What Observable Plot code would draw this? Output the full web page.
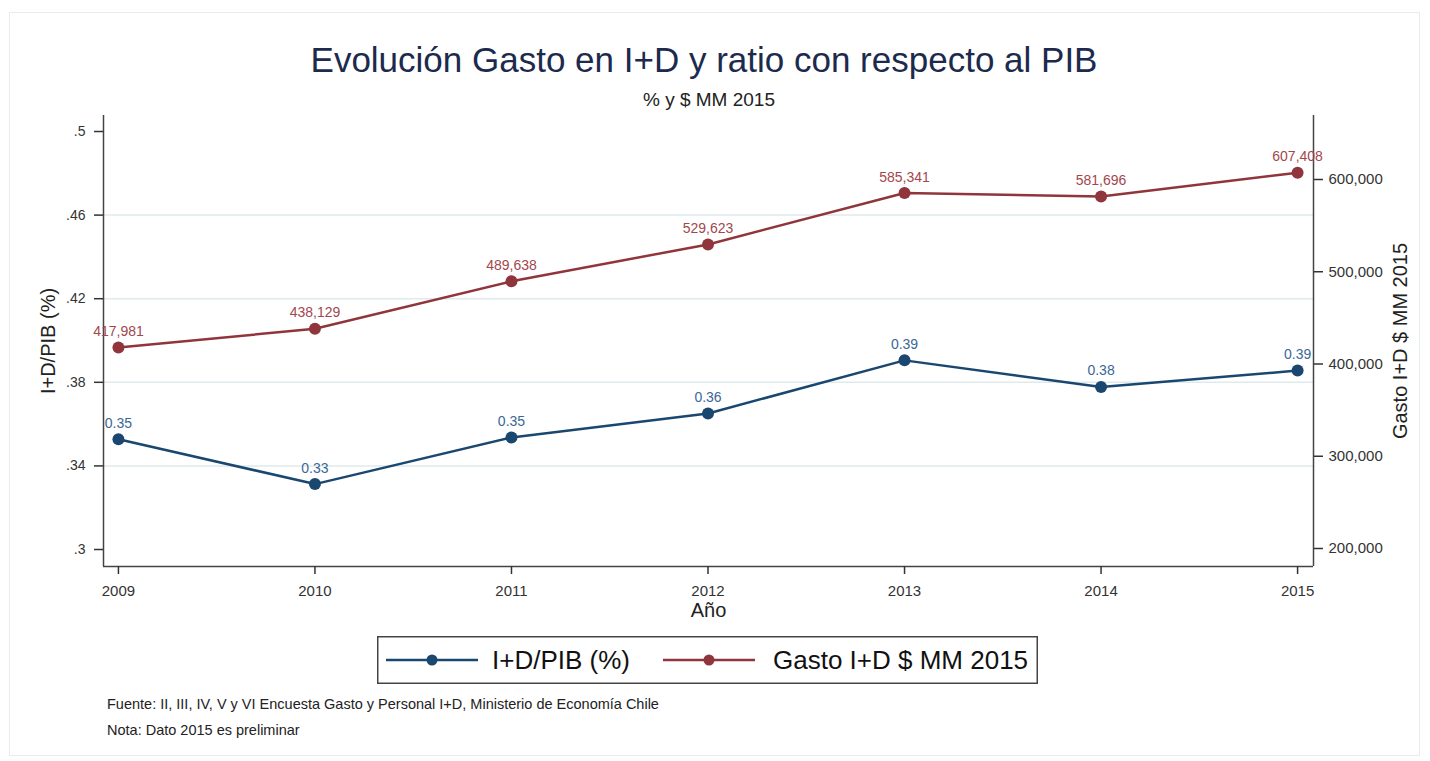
<!DOCTYPE html>
<html>
<head>
<meta charset="utf-8">
<script src="https://cdn.jsdelivr.net/npm/d3@7"></script>
<script src="https://cdn.jsdelivr.net/npm/@observablehq/plot@0.6"></script>
<style>
  html, body { margin: 0; padding: 0; background: #fff; overflow: hidden; }
  body { font-family: "Liberation Sans", Arial, sans-serif; }
  #wrap { position: relative; width: 1430px; height: 761px; overflow: hidden; background: #fff; }
  #border { position: absolute; left: 9px; top: 12px; width: 1411px; height: 744px; border: 1px solid #e6eded; box-sizing: border-box; }
  #chart { position: absolute; left: 0; top: 0; }
  .ov { position: absolute; white-space: nowrap; }
  #title { left: 0; width: 1408px; top: 42px; text-align: center; font-size: 35px; line-height: 35px; color: #1c2a4d; }
  #subtitle { left: 0; width: 1418px; top: 90px; text-align: center; font-size: 19px; line-height: 19px; color: #222; }
  #legend { left: 377px; top: 636px; }
  .foot { left: 107px; font-size: 14.5px; line-height: 14.5px; color: #222; }
</style>
</head>
<body>
<div id="wrap">
  <div id="border"></div>
  <div id="chart"></div>
  <div id="title" class="ov">Evolución Gasto en I+D y ratio con respecto al PIB</div>
  <div id="subtitle" class="ov">% y $ MM 2015</div>
  <div id="legend" class="ov"></div>
  <div class="ov foot" style="top:697px">Fuente: II, III, IV, V y VI Encuesta Gasto y Personal I+D, Ministerio de Economía Chile</div>
  <div class="ov foot" style="top:723px">Nota: Dato 2015 es preliminar</div>
</div>
<script>
// ---- data ----
const years = [2009, 2010, 2011, 2012, 2013, 2014, 2015];
const ratio = [0.3528, 0.3313, 0.3536, 0.3651, 0.3905, 0.3778, 0.3856];
const ratioLabels = ["0.35", "0.33", "0.35", "0.36", "0.39", "0.38", "0.39"];
const gasto = [417981, 438129, 489638, 529623, 585341, 581696, 607408];
const leftTicks = [0.3, 0.34, 0.38, 0.42, 0.46, 0.5];
const gridTicks = [0.34, 0.38, 0.42, 0.46];
const rightTicks = [200000, 300000, 400000, 500000, 600000];
const seriesNames = ["I+D/PIB (%)", "Gasto I+D $ MM 2015"];
const leftLabel = "I+D/PIB (%)";
const rightLabel = "Gasto I+D $ MM 2015";
const xLabel = "Año";

// ---- scale configuration ----
const xDomain = [2008.924, 2015.081];
const yDomain = [0.29187, 0.50766];
const rightDomain = [180488, 669377];

const blue = "#1a476f", red = "#90353b";
const blueText = "#3a6896", redText = "#a2474d";
const font = "'Liberation Sans', Arial, sans-serif";

const toLeft = d3.scaleLinear().domain(rightDomain).range(yDomain);
const fmtComma = d3.format(",");
const fmtLeft = d => d3.format(".2~f")(d).replace(/^0/, "");

const chart = Plot.plot({
  width: 1430,
  height: 761,
  marginTop: 115,
  marginBottom: 195,
  marginLeft: 103,
  marginRight: 117,
  style: { fontFamily: font, background: "transparent" },
  x: { domain: xDomain },
  y: { domain: yDomain },
  marks: [
    Plot.gridY({ ticks: gridTicks, stroke: "#dfeaed", strokeOpacity: 1, strokeWidth: 1.5 }),
    Plot.ruleX(xDomain, { stroke: "#444", strokeWidth: 1.5 }),
    Plot.ruleY([yDomain[0]], { stroke: "#444", strokeWidth: 1.5 }),
    Plot.axisY({ anchor: "left", ticks: leftTicks, tickFormat: fmtLeft, tickSize: 9, tickPadding: 9,
                 fontSize: 14, color: "#333", strokeWidth: 1.5, label: null }),
    Plot.axisY({ anchor: "right", ticks: rightTicks.map(toLeft),
                 tickFormat: d => fmtComma(Math.round(toLeft.invert(d) / 1000) * 1000),
                 tickSize: 9, tickPadding: 6, fontSize: 15, color: "#333", strokeWidth: 1.5, label: null }),
    Plot.axisX({ ticks: years, tickFormat: d => String(d), tickSize: 8, tickPadding: 11,
                 fontSize: 15, color: "#333", strokeWidth: 1.5, label: null }),
    Plot.text([xLabel], { frameAnchor: "bottom", dy: 44, fontSize: 20, fill: "#222", lineAnchor: "middle" }),
    Plot.text([leftLabel], { frameAnchor: "left", dx: -55, rotate: -90, textAnchor: "middle", lineAnchor: "middle", fontSize: 20, fill: "#222" }),
    Plot.text([rightLabel], { frameAnchor: "right", dx: 87, rotate: -90, textAnchor: "middle", lineAnchor: "middle", fontSize: 20, fill: "#222" }),
    // red series (right axis)
    Plot.line(years, { x: years, y: gasto.map(toLeft), stroke: red, strokeWidth: 2.5 }),
    Plot.dot(years, { x: years, y: gasto.map(toLeft), r: 6, fill: red }),
    Plot.text(years, { x: years, y: gasto.map(toLeft), text: gasto.map(fmtComma), dy: -16, fontSize: 14, fill: redText, lineAnchor: "middle" }),
    // blue series (left axis)
    Plot.line(years, { x: years, y: ratio, stroke: blue, strokeWidth: 2.5 }),
    Plot.dot(years, { x: years, y: ratio, r: 6, fill: blue }),
    Plot.text(years, { x: years, y: ratio, text: ratioLabels, dy: -16, fontSize: 14, fill: blueText, lineAnchor: "middle" })
  ]
});
document.getElementById("chart").appendChild(chart);

// ---- legend ----
const legendItems = [
  { name: seriesNames[0], color: blue, x0: 9, textX: 115 },
  { name: seriesNames[1], color: red, x0: 286, textX: 396 }
];
const lg = d3.select("#legend").append("svg")
  .attr("width", 661).attr("height", 48)
  .style("display", "block");
lg.append("rect").attr("x", 0.75).attr("y", 0.75).attr("width", 659.5).attr("height", 46.5)
  .attr("fill", "white").attr("stroke", "#444").attr("stroke-width", 1.5);
const it = lg.selectAll("g.item").data(legendItems).join("g").attr("class", "item");
it.append("line").attr("x1", d => d.x0).attr("x2", d => d.x0 + 92).attr("y1", 24).attr("y2", 24)
  .attr("stroke", d => d.color).attr("stroke-width", 2.5);
it.append("circle").attr("cx", d => d.x0 + 46).attr("cy", 24).attr("r", 5.5).attr("fill", d => d.color);
it.append("text").attr("x", d => d.textX).attr("y", 24).attr("dy", "0.35em")
  .attr("font-family", font).attr("font-size", 26).attr("fill", "#111").text(d => d.name);
</script>
</body>
</html>
